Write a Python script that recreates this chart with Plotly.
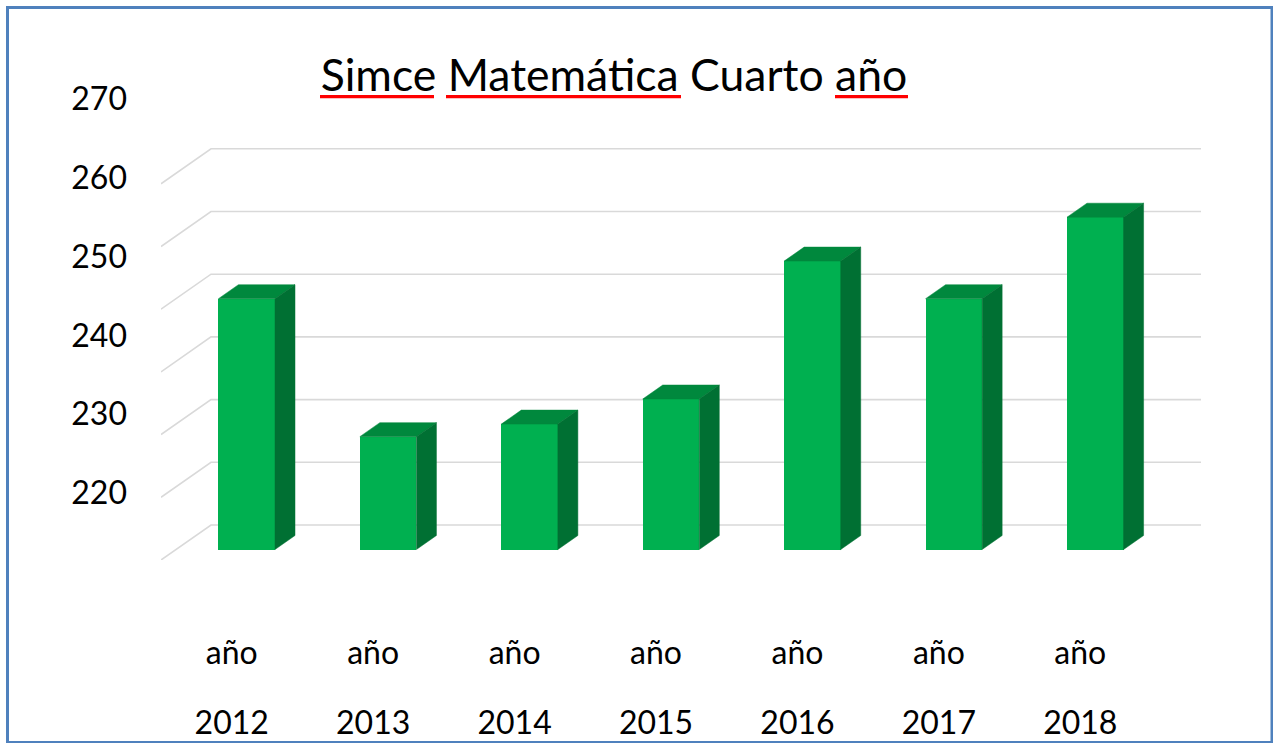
import plotly.graph_objects as go

# ---------------- data ----------------
years = ["2012", "2013", "2014", "2015", "2016", "2017", "2018"]
year_prefix = "año"
scores = [250, 228, 230, 234, 256, 250, 263]
axis_min = 210
axis_max = 270
grid_step = 10
label_ticks = [220, 230, 240, 250, 260, 270]
title_text = "Simce Matemática Cuarto año"

# ---------------- layout geometry ----------------
W, H = 1273, 743
ML, MR, MT, MB = 161, 72, 80, 183
PW, PH = W - ML - MR, H - MT - MB
n = len(years)
PX_PER_CAT = 141.43
PX_PER_UNIT = 6.27
X0 = -0.5
x_range = [X0, X0 + PW / PX_PER_CAT]
y_range = [axis_min, axis_min + PH / PX_PER_UNIT]
DX = 50 / PX_PER_CAT          # full depth of the 3D box, in axis units
DY = 35 / PX_PER_UNIT
BAR_W = 0.4
D0, D1 = 0.3, 0.7             # bar depth position (front, back)

# label axis (value labels drawn in the front plane)
LABEL_PX_PER_UNIT = 7.877
LABEL_REF_VAL, LABEL_REF_PX = 220, 493
y2_range = [LABEL_REF_VAL - (H - MB - LABEL_REF_PX) / LABEL_PX_PER_UNIT,
            LABEL_REF_VAL + (LABEL_REF_PX - MT) / LABEL_PX_PER_UNIT]

FRONT = "#00B050"
TOP = "#00883D"
SIDE = "#007033"
GRID = "#D9D9D9"
FONT = "Lato"

fig = go.Figure()

shapes = []
# gridlines: side wall diagonal + back wall horizontal (below the bars)
for v in range(axis_min, axis_max + 1, grid_step):
    path = (f"M {X0},{v} L {X0 + DX},{v + DY} L {n - 0.5 + DX},{v + DY}")
    shapes.append(dict(type="path", xref="x", yref="y", path=path,
                       layer="below", line=dict(color=GRID, width=1.6)))

# bars: front faces
idx = list(range(n))
xf = [i + D0 * DX for i in idx]
base = axis_min + D0 * DY
fig.add_trace(go.Bar(x=xf, y=[s - axis_min for s in scores], base=base,
                     width=BAR_W, marker=dict(color=FRONT, line=dict(width=0)),
                     hoverinfo="skip", showlegend=False))

# top and side faces
ddx, ddy = (D1 - D0) * DX, (D1 - D0) * DY
tx, ty, sx, sy = [], [], [], []
for xc, s in zip(xf, scores):
    xl, xr = xc - BAR_W / 2, xc + BAR_W / 2
    top = s + D0 * DY
    tx += [xl, xl + ddx, xr + ddx, xr, xl, None]
    ty += [top, top + ddy, top + ddy, top, top, None]
    sx += [xr, xr, xr + ddx, xr + ddx, xr, None]
    sy += [base, top, top + ddy, base + ddy, base, None]
fig.add_trace(go.Scatter(x=tx, y=ty, mode="lines", fill="toself", fillcolor=TOP,
                         line=dict(color=TOP, width=0.5),
                         hoverinfo="skip", showlegend=False))
fig.add_trace(go.Scatter(x=sx, y=sy, mode="lines", fill="toself", fillcolor=SIDE,
                         line=dict(color=SIDE, width=0.5),
                         hoverinfo="skip", showlegend=False))

# helper trace so the label axes exist
fig.add_trace(go.Scatter(x=[idx[0]], y=[label_ticks[0]], xaxis="x2", yaxis="y2",
                         mode="markers", marker=dict(opacity=0),
                         hoverinfo="skip", showlegend=False))


def px2paper(px, py):
    return (px - ML) / PW, (H - MB - py) / PH


# spell-check style red underlines under the title words
for (a, b) in [(320, 434), (446, 681), (835, 908)]:
    x0, y0 = px2paper(a, 96.7)
    x1, _ = px2paper(b, 96.7)
    shapes.append(dict(type="line", xref="paper", yref="paper",
                       x0=x0, x1=x1, y0=y0, y1=y0,
                       line=dict(color="#FF0000", width=3.3)))
# chart border
bx0, by0 = px2paper(7.5, 742.5)
bx1, by1 = px2paper(1272, 7.5)
shapes.append(dict(type="rect", xref="paper", yref="paper",
                   x0=bx0, x1=bx1, y0=by0, y1=by1,
                   line=dict(color="#4F81BD", width=3), fillcolor="rgba(0,0,0,0)"))

tickfont = dict(family=FONT, size=32, color="#000000")

fig.update_layout(
    width=W, height=H,
    margin=dict(l=ML, r=MR, t=MT, b=MB, pad=0),
    paper_bgcolor="white", plot_bgcolor="white",
    showlegend=False,
    title=dict(text=title_text, x=614 / W, xanchor="center",
               y=1 - 75 / H, yanchor="middle", yref="container",
               font=dict(family=FONT, size=44.5, color="#000000")),
    xaxis=dict(range=x_range, showgrid=False, zeroline=False, showline=False,
               tickmode="array", tickvals=idx, ticktext=[year_prefix] * n,
               ticks="", ticklabelstandoff=71, tickfont=tickfont,
               automargin=False, fixedrange=True),
    xaxis2=dict(range=x_range, overlaying="x", anchor="y", side="bottom",
                showgrid=False, zeroline=False, showline=False,
                tickmode="array", tickvals=idx, ticktext=years,
                ticks="", ticklabelstandoff=141, tickfont=tickfont,
                automargin=False, fixedrange=True),
    yaxis=dict(range=y_range, showgrid=False, zeroline=False, showline=False,
               showticklabels=False, ticks="", automargin=False, fixedrange=True),
    yaxis2=dict(range=y2_range, overlaying="y", anchor="x", side="left",
                showgrid=False, zeroline=False, showline=False,
                tickmode="array", tickvals=label_ticks,
                ticks="", ticklabelstandoff=33, tickfont=tickfont,
                automargin=False, fixedrange=True),
    shapes=shapes,
    bargap=0,
)

fig.write_html("out.html", config={"displayModeBar": False},
               post_script="document.body.style.margin='0';")
